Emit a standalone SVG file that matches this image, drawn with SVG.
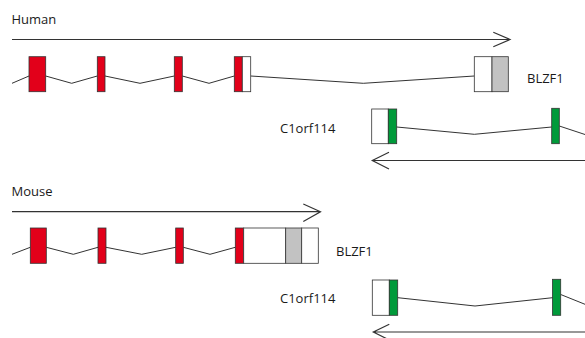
<svg xmlns="http://www.w3.org/2000/svg" width="585" height="338" viewBox="0 0 585 338">
<style>
text{font-family:"Open Sans","Noto Sans","Liberation Sans",sans-serif;font-size:13px;fill:#1a1a1a}
.in{fill:none;stroke:#333;stroke-width:1}
.ar{fill:none;stroke:#333;stroke-width:1.2}
.r{fill:#E2001A;stroke:#333;stroke-width:0.8}
.g{fill:#009A3A;stroke:#333;stroke-width:0.8}
.w{fill:#fff;stroke:#333;stroke-width:0.8}
.gr{fill:#C2C2C2;stroke:#333;stroke-width:0.8}
</style>
<rect width="585" height="338" fill="#fff"/>
<g id="connectors">
<path class="ar" d="M12 39.5H510M493.3 32.3L510 39.5L493.3 46.7"/>
<path class="in" d="M12 83.3L29 76M45.7 76L71.7 83.3L97.3 76M105 76L140 83.3L174.3 76M182.3 76L209 83.3L234.3 76M250.7 76L363.3 83.3L474.3 76"/>
<path class="in" d="M396.7 127L474.3 134.3L551.7 127M559.3 126L585 134.5"/>
<path class="ar" d="M585 160.5H372.3M389 152.3L372.3 160.5L389 169"/>
<path class="ar" d="M12 211.7H320.5M303.3 204L320.5 211.7L303.3 221.5"/>
<path class="in" d="M12 254.3L30.3 247.3M46.3 247.3L73.3 254.3L98 247.3M106 247.3L141.7 254.3L175.7 247.3M183.3 247.3L210 254.3L235.3 247.3"/>
<path class="in" d="M397.7 297.7L475 306L552.7 297.7M560.7 294.5L585 304.3"/>
<path class="ar" d="M585 332H373.3M389.3 324.3L373.3 332L389.3 340"/>
</g>
<g id="human-label"><text x="11.5" y="24.3">Human</text></g>
<g id="human-blzf1">
<rect class="r" x="29" y="56.7" width="16.7" height="35"/>
<rect class="r" x="97.3" y="56.7" width="7.7" height="35"/>
<rect class="r" x="174.3" y="56.7" width="8" height="35"/>
<rect class="r" x="234.3" y="56.7" width="8" height="35"/>
<rect class="w" x="242.3" y="56.7" width="8.4" height="35"/>
<rect class="w" x="474.3" y="56.7" width="17.7" height="35"/>
<rect class="gr" x="492" y="56.7" width="16.3" height="35"/>
<text x="527" y="83.3">BLZF1</text>
</g>
<g id="human-c1orf114">
<rect class="w" x="371.7" y="109" width="16.6" height="34.7"/>
<rect class="g" x="388.3" y="109" width="8.4" height="34.7"/>
<rect class="g" x="551.7" y="108.3" width="7.6" height="35.4"/>
<text x="280" y="133.3">C1orf114</text>
</g>
<g id="mouse-label"><text x="11.5" y="196">Mouse</text></g>
<g id="mouse-blzf1">
<rect class="r" x="30.3" y="228" width="16" height="35.3"/>
<rect class="r" x="98" y="228" width="8" height="35.3"/>
<rect class="r" x="175.7" y="228" width="7.6" height="35.3"/>
<rect class="r" x="235.3" y="228" width="8.4" height="35.3"/>
<rect class="w" x="243.7" y="228" width="42" height="35.3"/>
<rect class="gr" x="285.7" y="228" width="16" height="35.3"/>
<rect class="w" x="301.7" y="228" width="16.6" height="35.3"/>
<text x="336" y="256">BLZF1</text>
</g>
<g id="mouse-c1orf114">
<rect class="w" x="372.3" y="280" width="17" height="35.3"/>
<rect class="g" x="389.3" y="280" width="8.4" height="35.3"/>
<rect class="g" x="552.5" y="279.3" width="8.2" height="36"/>
<text x="280" y="303.3">C1orf114</text>
</g>
</svg>
